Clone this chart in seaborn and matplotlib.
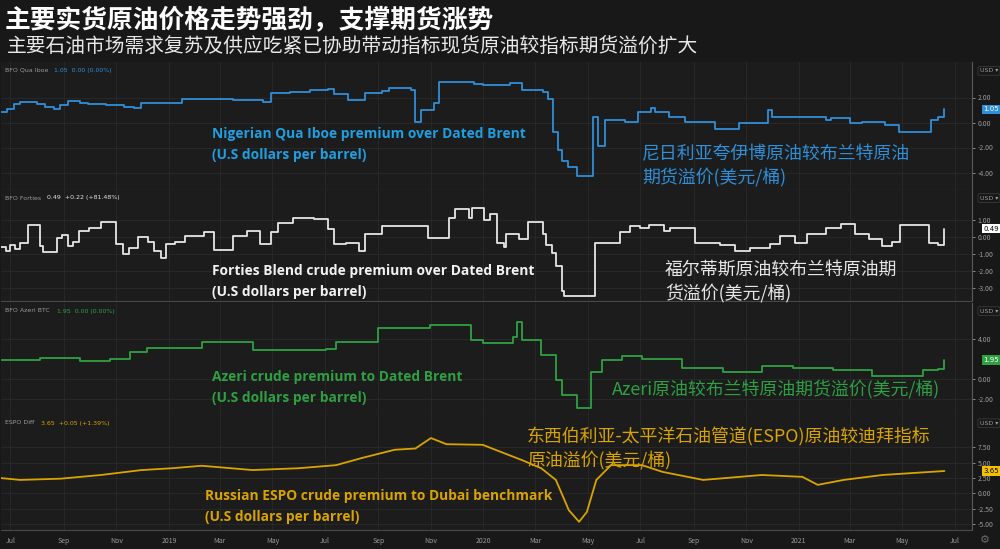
import matplotlib
matplotlib.use("Agg")
import matplotlib.pyplot as plt
import matplotlib.dates as mdates
import seaborn as sns
import pandas as pd

# Nigerian Qua Iboe premium over Dated Brent
qua_dates = ["2018-06-20", "2018-06-27", "2018-07-05", "2018-07-12", "2018-08-01", "2018-08-10",
             "2018-08-20", "2018-08-28", "2018-09-06", "2018-09-20", "2018-09-29", "2018-10-20",
             "2018-11-10", "2018-11-21", "2018-11-30", "2019-01-08", "2019-01-16", "2019-03-16",
             "2019-04-20", "2019-04-29", "2019-05-22", "2019-06-14", "2019-07-04", "2019-07-11",
             "2019-07-28", "2019-08-16", "2019-09-05", "2019-09-13", "2019-10-09", "2019-10-14",
             "2019-10-21", "2019-11-05", "2019-11-10", "2019-12-21", "2020-01-01", "2020-02-01",
             "2020-02-15", "2020-03-10", "2020-03-16", "2020-03-22", "2020-03-28", "2020-04-01",
             "2020-04-08", "2020-04-18", "2020-05-07", "2020-05-13", "2020-05-21", "2020-06-13",
             "2020-06-28", "2020-07-14", "2020-07-18", "2020-08-03", "2020-08-22", "2020-09-26",
             "2020-10-24", "2020-11-26", "2020-12-01", "2021-02-02", "2021-02-07", "2021-03-01",
             "2021-03-15", "2021-04-11", "2021-04-27", "2021-06-03", "2021-06-12", "2021-06-19"]
qua_vals = [0.86, 1.1, 1.45, 1.67, 1.5, 1.27,
            1.1, 1.4, 1.75, 1.6, 1.5, 1.4,
            1.27, 1.15, 1.53, 1.53, 1.85, 1.8,
            1.67, 2.33, 2.45, 2.6, 2.7, 2.3,
            1.8, 2.33, 2.5, 2.73, 2.6, 0.07,
            0.97, 1.53, 3.27, 3.1, 3.0, 3.18,
            2.6, 2.47, 1.87, -0.73, -2.2, -3.1,
            -3.55, -4.27, 0.47, -1.88, 0.2, 0.07,
            0.87, 1.13, 0.81, 0.47, 0.07, -0.52,
            -0.07, 0.97, 0.41, 0.2, 0.33, -0.07,
            0.07, -0.2, -0.79, 0.2, 0.41, 1.05]

# Forties Blend premium over Dated Brent
forties_dates = ["2018-06-20", "2018-06-26", "2018-07-01", "2018-07-06", "2018-07-12", "2018-07-21",
                 "2018-08-04", "2018-08-08", "2018-08-24", "2018-08-30", "2018-09-06", "2018-09-12",
                 "2018-09-18", "2018-09-30", "2018-10-14", "2018-11-01", "2018-11-09", "2018-11-15",
                 "2018-11-26", "2018-12-08", "2018-12-15", "2018-12-23", "2018-12-29", "2019-01-08",
                 "2019-01-19", "2019-02-11", "2019-02-22", "2019-03-16", "2019-04-02", "2019-04-17",
                 "2019-04-29", "2019-05-07", "2019-05-25", "2019-06-18", "2019-07-05", "2019-07-11",
                 "2019-07-25", "2019-08-09", "2019-08-16", "2019-09-05", "2019-10-29", "2019-11-22",
                 "2019-11-29", "2019-12-15", "2019-12-19", "2020-01-02", "2020-01-09", "2020-01-17",
                 "2020-01-25", "2020-01-27", "2020-02-11", "2020-02-22", "2020-03-10", "2020-03-13",
                 "2020-03-20", "2020-03-25", "2020-04-01", "2020-04-04", "2020-05-09", "2020-06-07",
                 "2020-06-19", "2020-07-01", "2020-07-11", "2020-07-28", "2020-08-05", "2020-09-02",
                 "2020-10-01", "2020-10-19", "2020-11-05", "2020-11-29", "2020-12-10", "2020-12-28",
                 "2021-01-10", "2021-02-02", "2021-02-19", "2021-03-07", "2021-03-23", "2021-04-08",
                 "2021-04-19", "2021-04-28", "2021-06-01", "2021-06-11", "2021-06-19"]
forties_vals = [-0.6, -0.85, -0.5, -0.7, -0.34, 0.73,
                -0.55, -0.87, -0.04, 0.1, -0.55, -0.3,
                0.35, 0.55, 0.85, -0.4, -1.03, -0.63,
                0.0, -0.3, -0.83, -1.22, -0.44, -0.3,
                0.06, 0.26, -0.75, 0.06, 0.36, -0.44,
                0.3, 0.84, 1.14, 1.04, 0.45, -0.43,
                -0.34, -0.83, 0.16, 0.65, -0.04, 1.14,
                1.63, 1.14, 1.73, 1.0, 1.34, -0.34,
                -0.6, 0.16, -0.1, 0.85, 0.16, -0.5,
                -0.93, -1.72, -3.2, -3.5, -0.34, 0.26,
                0.65, 0.55, 0.73, 0.35, 0.55, -0.34,
                -0.5, -0.84, -0.65, -0.4, 0.06, -0.34,
                0.16, 0.55, 0.75, 0.2, -0.1, -0.55,
                -0.3, 0.73, -0.34, -0.5, 0.49]

# Azeri premium to Dated Brent
azeri_dates = ["2018-06-20", "2018-08-04", "2018-09-20", "2018-10-24", "2018-11-17", "2018-12-07",
               "2019-02-08", "2019-04-08", "2019-07-02", "2019-07-14", "2019-09-01", "2019-10-31",
               "2019-12-17", "2019-12-31", "2020-02-04", "2020-02-09", "2020-02-15", "2020-03-08",
               "2020-03-25", "2020-04-01", "2020-04-18", "2020-05-05", "2020-05-17", "2020-06-10",
               "2020-07-03", "2020-08-18", "2020-10-05", "2020-11-19", "2020-12-25", "2021-02-10",
               "2021-03-27", "2021-05-25", "2021-06-12", "2021-06-19"]
azeri_vals = [1.9, 2.1, 1.8, 2.0, 2.7, 3.1,
              3.7, 2.9, 3.0, 3.7, 5.1, 5.4,
              3.9, 3.6, 4.2, 5.7, 3.9, 2.4,
              -0.1, -1.6, -2.9, 0.7, 1.9, 2.3,
              2.0, 1.1, 0.7, 1.3, 1.1, 0.9,
              0.3, 0.9, 1.0, 1.95]

# Russian ESPO premium to Dubai benchmark
espo_dates = ["2018-06-20", "2018-07-12", "2018-08-28", "2018-10-14", "2018-11-30", "2019-01-05",
              "2019-02-08", "2019-04-08", "2019-06-01", "2019-07-14", "2019-08-14", "2019-09-20",
              "2019-10-14", "2019-11-01", "2019-11-19", "2019-12-31", "2020-01-22", "2020-02-15",
              "2020-03-08", "2020-03-25", "2020-04-09", "2020-04-21", "2020-04-30", "2020-05-11",
              "2020-05-28", "2020-07-03", "2020-07-27", "2020-09-12", "2020-11-19", "2021-01-05",
              "2021-01-23", "2021-02-22", "2021-04-08", "2021-06-19"]
espo_vals = [2.5, 2.2, 2.4, 3.0, 3.8, 4.1,
             4.5, 3.8, 4.1, 4.6, 5.8, 7.1,
             7.3, 9.0, 8.0, 7.9, 6.7, 5.4,
             4.1, 2.2, -2.7, -4.6, -3.0, 2.2,
             4.6, 4.6, 3.5, 2.2, 3.0, 2.7,
             1.4, 2.2, 3.0, 3.65]

BG = "#181818"
PANEL = "#1c1c1c"
GRID = "#2a2a2a"
W, H = 1000, 549

panels = [
    dict(dates=qua_dates, vals=qua_vals, color="#2f8fd8", top=62, bot=190, ylim=(-5.4, 4.84),
         ticks=[2, 0, -2, -4], badge_fc="#2f8fd8", badge_tc="white",
         name="BFO Qua Iboe", info="1.05  0.00 (0.00%)", info_x=54, step=True,
         en="Nigerian Qua Iboe premium over Dated Brent\n(U.S dollars per barrel)", en_xy=(212, 127),
         zh="尼日利亚夸伊博原油较布兰特原油\n期货溢价(美元/桶)", zh_xy=(642, 145), zh_color="#2f8fd8",
         en_color="#1f9ee0"),
    dict(dates=forties_dates, vals=forties_vals, color="#e6e6e6", top=190, bot=301, ylim=(-3.77, 2.76),
         ticks=[1, 0, -1, -2, -3], badge_fc="white", badge_tc="black",
         name="BFO Forties", info="0.49  +0.22 (+81.48%)", info_x=47, step=True,
         en="Forties Blend crude premium over Dated Brent\n(U.S dollars per barrel)", en_xy=(212, 264),
         zh="福尔蒂斯原油较布兰特原油期\n货溢价(美元/桶)", zh_xy=(665, 261), zh_color="#e6e6e6",
         en_color="#f2f2f2"),
    dict(dates=azeri_dates, vals=azeri_vals, color="#2ea043", top=303, bot=415, ylim=(-3.57, 7.63),
         ticks=[4, 0, -2], badge_fc="#2ea043", badge_tc="white",
         name="BFO Azeri BTC", info="1.95  0.00 (0.00%)", info_x=57, step=True,
         en="Azeri crude premium to Dated Brent\n(U.S dollars per barrel)", en_xy=(212, 370),
         zh="Azeri原油较布兰特原油期货溢价(美元/桶)", zh_xy=(612, 380), zh_color="#2ea043",
         en_color="#2ea043"),
    dict(dates=espo_dates, vals=espo_vals, color="#d9a400", top=415, bot=530, ylim=(-5.93, 12.74),
         ticks=[7.5, 5, 2.5, 0, -2.5, -5], badge_fc="#f2c200", badge_tc="black",
         name="ESPO Diff", info="3.65  +0.05 (+1.39%)", info_x=41, step=False,
         en="Russian ESPO crude premium to Dubai benchmark\n(U.S dollars per barrel)", en_xy=(205, 489),
         zh="东西伯利亚-太平洋石油管道(ESPO)原油较迪拜指标\n原油溢价(美元/桶)", zh_xy=(527, 427),
         zh_color="#d9a400", en_color="#d9a400"),
]

sns.set_theme(style="dark")
plt.rcParams["font.family"] = ["Noto Sans CJK SC", "DejaVu Sans"]

fig = plt.figure(figsize=(W / 100, H / 100), dpi=100, facecolor=BG)


def fx(px):
    return px / W


def fy(py):
    return 1 - py / H


def month_label(v, pos):
    d = mdates.num2date(v)
    return str(d.year) if d.month == 1 else d.strftime("%b")


x_left = pd.Timestamp("2018-06-20")
x_right = pd.Timestamp("2021-07-21")

for i, p in enumerate(panels):
    ax = fig.add_axes([fx(1), fy(p["bot"]), fx(971), (p["bot"] - p["top"]) / H])
    ax.set_facecolor(PANEL)
    df = pd.DataFrame({"date": pd.to_datetime(p["dates"]), "value": p["vals"]})
    kw = {"drawstyle": "steps-post"} if p["step"] else {}
    sns.lineplot(data=df, x="date", y="value", ax=ax, color=p["color"], lw=1.3,
                 estimator=None, legend=False, **kw)
    ax.set_xlim(x_left, x_right)
    ax.set_ylim(*p["ylim"])
    ax.set_xlabel("")
    ax.set_ylabel("")
    ax.yaxis.tick_right()
    ax.set_yticks(p["ticks"])
    ax.set_yticklabels([f"{t:.2f}" for t in p["ticks"]])
    ax.tick_params(axis="y", colors="#9a9a9a", labelsize=5, length=2, width=0.6, pad=2)
    ax.xaxis.set_major_locator(mdates.MonthLocator(bymonth=[1, 3, 5, 7, 9, 11]))
    ax.grid(True, color=GRID, lw=0.6)
    for s in ["left", "top"]:
        ax.spines[s].set_visible(False)
    ax.spines["right"].set_color("#5a5a5a")
    ax.spines["bottom"].set_color("#4a4a4a")
    ax.spines["right"].set_linewidth(0.8)
    ax.spines["bottom"].set_linewidth(0.8)
    if i < len(panels) - 1:
        ax.tick_params(axis="x", labelbottom=False, length=0)
    else:
        ax.xaxis.set_major_formatter(plt.FuncFormatter(month_label))
        ax.tick_params(axis="x", colors="#9a9a9a", labelsize=5, length=2, width=0.6, pad=3)

    # last value badge
    last = p["vals"][-1]
    ax.text(1.012, last, f"{last:.2f}", transform=ax.get_yaxis_transform(), ha="left", va="center",
            fontsize=5, color=p["badge_tc"], family="DejaVu Sans",
            bbox=dict(boxstyle="square,pad=0.25", fc=p["badge_fc"], ec="none"))
    # currency box
    ax.text(1.008, 0.95, "USD ▾", transform=ax.transAxes, ha="left", va="top", fontsize=4.5,
            color="#9a9a9a", family="DejaVu Sans",
            bbox=dict(boxstyle="round,pad=0.3", fc=BG, ec="#3a3a3a", lw=0.6))
    # series header
    hy = p["top"] + 8
    fig.text(fx(5), fy(hy), p["name"], fontsize=4.5, color="#9a9a9a", va="center", family="DejaVu Sans")
    fig.text(fx(p["info_x"]), fy(hy), p["info"], fontsize=4.5, color=p["color"], va="center",
             family="DejaVu Sans")
    # annotations
    fig.text(fx(p["en_xy"][0]), fy(p["en_xy"][1]), p["en"], fontsize=9.9, fontweight="bold",
             color=p["en_color"], family=["Open Sans", "DejaVu Sans"], va="top", linespacing=1.6)
    fig.text(fx(p["zh_xy"][0]), fy(p["zh_xy"][1]), p["zh"], fontsize=12.9, color=p["zh_color"],
             va="top", linespacing=1.3)

fig.text(fx(5), fy(20), "主要实货原油价格走势强劲，支撑期货涨势", fontsize=18.5, fontweight="bold",
         color="white", va="center")
fig.text(fx(7), fy(47), "主要石油市场需求复苏及供应吃紧已协助带动指标现货原油较指标期货溢价扩大",
         fontsize=14.2, color="#e8e8e8", va="center")
fig.text(fx(985), fy(540), "⚙", fontsize=8, color="#6a6a6a", ha="center", va="center",
         family="DejaVu Sans")

fig.savefig("out.png", dpi=100, facecolor=BG)
